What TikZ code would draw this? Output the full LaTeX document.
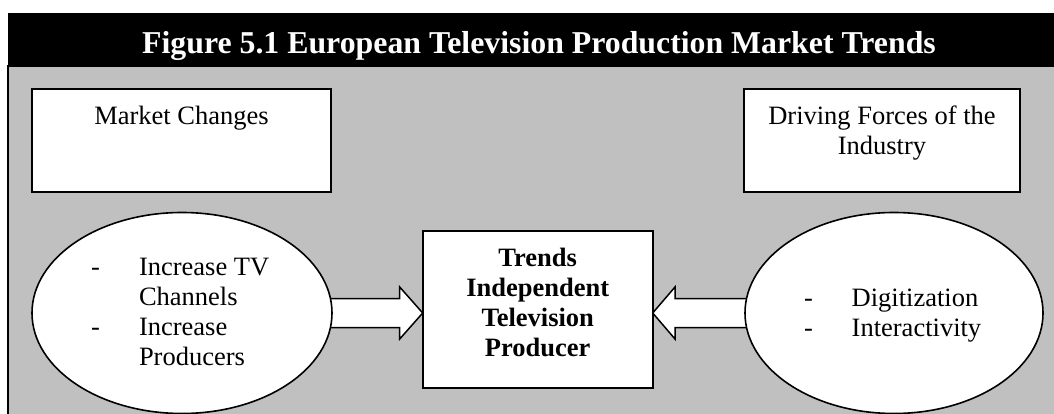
\documentclass[tikz,border=0pt]{standalone}
\usepackage{fontspec}
\setmainfont{Liberation Serif}
\usetikzlibrary{shapes.geometric,calc}
\pgfdeclarelayer{back}
\pgfdeclarelayer{mid}
\pgfsetlayers{back,mid,main}
\definecolor{panelgray}{HTML}{C0C0C0}
\begin{document}
\begin{tikzpicture}[x=1pt,y=-1pt,
  every node/.style={inner sep=0pt, outer sep=0pt},
  body/.style={font=\fontsize{26.5}{30}\selectfont},
  boldbody/.style={font=\fontsize{26.5}{30}\selectfont\bfseries},
  whitebox/.style={draw=black, fill=white, line width=1.6pt},
  oval/.style={ellipse, draw=black, fill=white, line width=1.6pt},
  blockarrow/.style={draw=black, fill=white, line width=1.5pt, line join=miter}]
\useasboundingbox (0,0) rectangle (1054,414);

% title band and grey panel
\begin{pgfonlayer}{back}
  \fill[black] (8,13) rectangle (1070,66);
  \node[anchor=base, text=white, font=\fontsize{31.8}{36}\selectfont\bfseries]
    (title) at (539,54) {Figure 5.1 European Television Production Market Trends};
  \filldraw[fill=panelgray, draw=black, line width=1.2pt] (8,66) rectangle (1070,430);
\end{pgfonlayer}

% heading boxes
\node[whitebox, minimum width=299, minimum height=103, anchor=north west] (mc) at (32,89.3) {};
\node[body, anchor=base] (mct) at (181.5,125) {Market Changes};
\node[whitebox, minimum width=276, minimum height=103, anchor=north west] (df) at (744,89.3) {};
\node[body, anchor=base] (dft1) at (882,125) {Driving Forces of the};
\node[body, anchor=base] (dft2) at (882,155) {Industry};

% central box
\node[whitebox, minimum width=230, minimum height=157, anchor=north west] (trend) at (422.7,230.7) {};
\foreach \w [count=\i] in {Trends,Independent,Television,Producer}
  \node[boldbody, anchor=base] (tt\i) at (537.7,236+30*\i) {\w};

% side ovals
\node[oval, minimum width=300, minimum height=201] (lel) at (182,313) {};
\node[oval, minimum width=298, minimum height=201] (rel) at (894,313) {};

\node[body, anchor=base west] (d1) at (91,275) {-};
\node[body, anchor=base west] (d2) at (91,335) {-};
\node[body, anchor=base west] (l1) at (139,275) {Increase TV};
\node[body, anchor=base west] (l2) at (139,305) {Channels};
\node[body, anchor=base west] (l3) at (139,335) {Increase};
\node[body, anchor=base west] (l4) at (139,365) {Producers};

\node[body, anchor=base west] (d3) at (804,306) {-};
\node[body, anchor=base west] (d4) at (804,336) {-};
\node[body, anchor=base west] (r1) at (851.7,306) {Digitization};
\node[body, anchor=base west] (r2) at (851.7,336) {Interactivity};

% block arrows, tucked under the ovals
\coordinate (tipL) at (trend.west |- lel.center);
\coordinate (tipR) at (trend.east |- rel.center);
\begin{pgfonlayer}{mid}
  \draw[blockarrow] ($(lel.center)+(0,-14.5)$) -- ($(tipL)+(-23,-14.5)$)
    -- ($(tipL)+(-23,-26)$) -- (tipL) -- ($(tipL)+(-23,26)$)
    -- ($(tipL)+(-23,14.5)$) -- ($(lel.center)+(0,14.5)$);
  \draw[blockarrow] ($(rel.center)+(0,-14.5)$) -- ($(tipR)+(22.3,-14.5)$)
    -- ($(tipR)+(22.3,-26)$) -- (tipR) -- ($(tipR)+(22.3,26)$)
    -- ($(tipR)+(22.3,14.5)$) -- ($(rel.center)+(0,14.5)$);
\end{pgfonlayer}
\end{tikzpicture}
\end{document}
